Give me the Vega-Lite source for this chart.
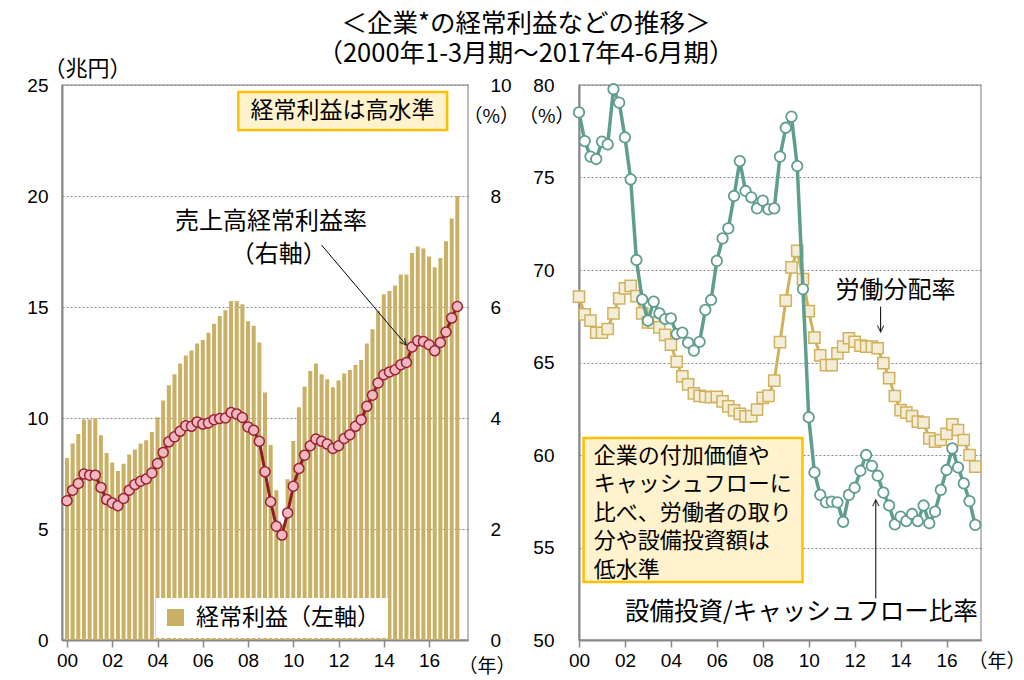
{
  "$schema": "https://vega.github.io/schema/vega-lite/v6.json",
  "padding": {"left": 26, "top": 11, "right": 0, "bottom": 8},
  "bounds": "flush",
  "spacing": 111,
  "background": "white",
  "title": {
    "text": ["＜企業*の経常利益などの推移＞", "（2000年1-3月期～2017年4-6月期）"],
    "fontSize": 25.5, "font": "Noto Sans CJK JP", "fontWeight": "normal",
    "lineHeight": 30, "anchor": "middle", "offset": -11, "color": "black"
  },
  "config": {
    "font": "Noto Sans CJK JP",
    "view": {"stroke": "#a6a6a6", "strokeWidth": 1.5},
    "axis": {
      "labelFont": "Liberation Sans", "labelFontSize": 19, "labelColor": "black",
      "domainColor": "#888", "domainWidth": 2, "ticks": false,
      "gridColor": "#888", "gridDash": [2, 2], "gridWidth": 1,
      "titleFont": "Noto Sans CJK JP", "titleFontWeight": "normal", "titleFontSize": 19, "titleColor": "black"
    }
  },
  "datasets": {
    "profit": [
      {"t": 2000.00, "p": 8.2, "r": 2.51}, {"t": 2000.25, "p": 8.85, "r": 2.70}, {"t": 2000.50, "p": 9.28, "r": 2.82}, {"t": 2000.75, "p": 9.93, "r": 2.99},
      {"t": 2001.00, "p": 9.93, "r": 2.97}, {"t": 2001.25, "p": 10.0, "r": 2.97}, {"t": 2001.50, "p": 9.22, "r": 2.75}, {"t": 2001.75, "p": 8.42, "r": 2.53},
      {"t": 2002.00, "p": 7.99, "r": 2.47}, {"t": 2002.25, "p": 7.61, "r": 2.42}, {"t": 2002.50, "p": 7.94, "r": 2.55}, {"t": 2002.75, "p": 8.36, "r": 2.70},
      {"t": 2003.00, "p": 8.58, "r": 2.80}, {"t": 2003.25, "p": 8.85, "r": 2.86}, {"t": 2003.50, "p": 9.0, "r": 2.90}, {"t": 2003.75, "p": 9.37, "r": 3.01},
      {"t": 2004.00, "p": 10.03, "r": 3.18}, {"t": 2004.25, "p": 10.79, "r": 3.38}, {"t": 2004.50, "p": 11.48, "r": 3.57}, {"t": 2004.75, "p": 11.97, "r": 3.66},
      {"t": 2005.00, "p": 12.46, "r": 3.76}, {"t": 2005.25, "p": 12.82, "r": 3.86}, {"t": 2005.50, "p": 13.04, "r": 3.85}, {"t": 2005.75, "p": 13.36, "r": 3.93},
      {"t": 2006.00, "p": 13.51, "r": 3.89}, {"t": 2006.25, "p": 13.84, "r": 3.91}, {"t": 2006.50, "p": 14.25, "r": 3.97}, {"t": 2006.75, "p": 14.6, "r": 3.99},
      {"t": 2007.00, "p": 14.85, "r": 4.0}, {"t": 2007.25, "p": 15.27, "r": 4.10}, {"t": 2007.50, "p": 15.27, "r": 4.07}, {"t": 2007.75, "p": 15.12, "r": 4.01},
      {"t": 2008.00, "p": 14.36, "r": 3.84}, {"t": 2008.25, "p": 14.15, "r": 3.78}, {"t": 2008.50, "p": 13.4, "r": 3.58}, {"t": 2008.75, "p": 11.15, "r": 3.03},
      {"t": 2009.00, "p": 8.78, "r": 2.49}, {"t": 2009.25, "p": 6.75, "r": 2.05}, {"t": 2009.50, "p": 5.2, "r": 1.89}, {"t": 2009.75, "p": 7.24, "r": 2.29},
      {"t": 2010.00, "p": 8.96, "r": 2.77}, {"t": 2010.25, "p": 10.48, "r": 3.09}, {"t": 2010.50, "p": 11.42, "r": 3.33}, {"t": 2010.75, "p": 12.12, "r": 3.50},
      {"t": 2011.00, "p": 12.46, "r": 3.62}, {"t": 2011.25, "p": 11.97, "r": 3.58}, {"t": 2011.50, "p": 11.75, "r": 3.53}, {"t": 2011.75, "p": 11.39, "r": 3.45},
      {"t": 2012.00, "p": 11.69, "r": 3.50}, {"t": 2012.25, "p": 12.01, "r": 3.63}, {"t": 2012.50, "p": 12.16, "r": 3.70}, {"t": 2012.75, "p": 12.39, "r": 3.85},
      {"t": 2013.00, "p": 12.61, "r": 3.97}, {"t": 2013.25, "p": 13.36, "r": 4.21}, {"t": 2013.50, "p": 14.0, "r": 4.41}, {"t": 2013.75, "p": 14.82, "r": 4.63},
      {"t": 2014.00, "p": 15.57, "r": 4.78}, {"t": 2014.25, "p": 15.72, "r": 4.83}, {"t": 2014.50, "p": 15.97, "r": 4.87}, {"t": 2014.75, "p": 16.46, "r": 4.96},
      {"t": 2015.00, "p": 16.46, "r": 5.0}, {"t": 2015.25, "p": 17.43, "r": 5.28}, {"t": 2015.50, "p": 17.73, "r": 5.39}, {"t": 2015.75, "p": 17.64, "r": 5.38},
      {"t": 2016.00, "p": 17.27, "r": 5.32}, {"t": 2016.25, "p": 16.79, "r": 5.21}, {"t": 2016.50, "p": 17.21, "r": 5.36}, {"t": 2016.75, "p": 17.96, "r": 5.55},
      {"t": 2017.00, "p": 18.99, "r": 5.80}, {"t": 2017.25, "p": 20.0, "r": 6.01}
    ],
    "share": [
      {"t": 2000.00, "L": 68.56, "C": 78.52}, {"t": 2000.25, "L": 67.6, "C": 76.97}, {"t": 2000.50, "L": 67.26, "C": 76.13}, {"t": 2000.75, "L": 66.61, "C": 76.0},
      {"t": 2001.00, "L": 66.61, "C": 76.94}, {"t": 2001.25, "L": 66.81, "C": 76.79}, {"t": 2001.50, "L": 67.66, "C": 79.77}, {"t": 2001.75, "L": 68.47, "C": 79.05},
      {"t": 2002.00, "L": 69.01, "C": 77.17}, {"t": 2002.25, "L": 69.14, "C": 74.9}, {"t": 2002.50, "L": 68.59, "C": 70.54}, {"t": 2002.75, "L": 67.66, "C": 68.41},
      {"t": 2003.00, "L": 67.17, "C": 67.26}, {"t": 2003.25, "L": 67.15, "C": 68.29}, {"t": 2003.50, "L": 66.9, "C": 67.66}, {"t": 2003.75, "L": 66.49, "C": 67.35},
      {"t": 2004.00, "L": 65.97, "C": 67.39}, {"t": 2004.25, "L": 65.04, "C": 66.54}, {"t": 2004.50, "L": 64.25, "C": 66.61}, {"t": 2004.75, "L": 63.82, "C": 66.07},
      {"t": 2005.00, "L": 63.33, "C": 65.64}, {"t": 2005.25, "L": 63.2, "C": 66.12}, {"t": 2005.50, "L": 63.15, "C": 67.84}, {"t": 2005.75, "L": 63.12, "C": 68.38},
      {"t": 2006.00, "L": 63.15, "C": 70.49}, {"t": 2006.25, "L": 62.9, "C": 71.71}, {"t": 2006.50, "L": 62.63, "C": 72.25}, {"t": 2006.75, "L": 62.41, "C": 74.0},
      {"t": 2007.00, "L": 62.22, "C": 75.89}, {"t": 2007.25, "L": 62.09, "C": 74.27}, {"t": 2007.50, "L": 62.1, "C": 73.93}, {"t": 2007.75, "L": 62.45, "C": 73.33},
      {"t": 2008.00, "L": 63.09, "C": 73.75}, {"t": 2008.25, "L": 63.2, "C": 73.28}, {"t": 2008.50, "L": 64.02, "C": 73.33}, {"t": 2008.75, "L": 66.1, "C": 76.13},
      {"t": 2009.00, "L": 68.34, "C": 77.69}, {"t": 2009.25, "L": 70.14, "C": 78.29}, {"t": 2009.50, "L": 71.03, "C": 75.62}, {"t": 2009.75, "L": 69.51, "C": 68.97},
      {"t": 2010.00, "L": 67.78, "C": 62.04}, {"t": 2010.25, "L": 66.34, "C": 59.06}, {"t": 2010.50, "L": 65.39, "C": 57.84}, {"t": 2010.75, "L": 64.86, "C": 57.44},
      {"t": 2011.00, "L": 64.86, "C": 57.48}, {"t": 2011.25, "L": 65.49, "C": 57.44}, {"t": 2011.50, "L": 65.86, "C": 56.39}, {"t": 2011.75, "L": 66.31, "C": 57.84},
      {"t": 2012.00, "L": 66.12, "C": 58.23}, {"t": 2012.25, "L": 65.91, "C": 59.15}, {"t": 2012.50, "L": 65.86, "C": 60.0}, {"t": 2012.75, "L": 65.86, "C": 59.41},
      {"t": 2013.00, "L": 65.77, "C": 58.88}, {"t": 2013.25, "L": 64.97, "C": 57.97}, {"t": 2013.50, "L": 64.16, "C": 57.27}, {"t": 2013.75, "L": 63.19, "C": 56.25},
      {"t": 2014.00, "L": 62.43, "C": 56.67}, {"t": 2014.25, "L": 62.29, "C": 56.43}, {"t": 2014.50, "L": 62.11, "C": 56.81}, {"t": 2014.75, "L": 61.8, "C": 56.43},
      {"t": 2015.00, "L": 61.75, "C": 57.27}, {"t": 2015.25, "L": 60.9, "C": 56.31}, {"t": 2015.50, "L": 60.72, "C": 56.94}, {"t": 2015.75, "L": 60.81, "C": 58.11},
      {"t": 2016.00, "L": 61.14, "C": 59.19}, {"t": 2016.25, "L": 61.66, "C": 60.36}, {"t": 2016.50, "L": 61.35, "C": 59.33}, {"t": 2016.75, "L": 60.81, "C": 58.47},
      {"t": 2017.00, "L": 60.0, "C": 57.51}, {"t": 2017.25, "L": 59.37, "C": 56.22}
    ]
  },
  "hconcat": [
    {
      "width": 406,
      "height": 555,
      "resolve": {"scale": {"y": "independent"}},
      "layer": [
        {
          "layer": [
            {
              "data": {"name": "profit"},
              "mark": {"type": "bar", "size": 4},
              "encoding": {
                "x": {
                  "field": "t", "type": "quantitative",
                  "scale": {"domain": [2000, 2017.5], "nice": false, "zero": false},
                  "axis": {
                    "values": [2000, 2001, 2002, 2003, 2004, 2005, 2006, 2007, 2008, 2009, 2010, 2011, 2012, 2013, 2014, 2015, 2016, 2017],
                    "labelExpr": "datum.value % 2 == 0 ? substring(toString(datum.value), 2, 4) : ''",
                    "ticks": true, "tickSize": 7, "tickColor": "#888", "tickWidth": 1.5,
                    "labelPadding": 4, "labelFlush": false, "labelOverlap": false, "grid": false,
                    "title": "（年）", "titleX": 396, "titleY": 26, "titleAlign": "left", "titleBaseline": "middle", "titleAngle": 0
                  }
                },
                "y": {
                  "field": "p", "type": "quantitative",
                  "scale": {"domain": [0, 25], "nice": false},
                  "axis": {
                    "values": [0, 5, 10, 15, 20, 25], "grid": true, "labelPadding": 14,
                    "title": "（兆円）", "titleFontSize": 22, "titleAngle": 0, "titleX": -19, "titleY": -17, "titleAlign": "left", "titleBaseline": "middle"
                  }
                },
                "color": {
                  "datum": "経常利益（左軸）",
                  "scale": {"range": ["#C9B064"]},
                  "legend": {
                    "orient": "none", "legendX": 94, "legendY": 513, "fillColor": "white", "padding": 8,
                    "symbolType": "square", "symbolSize": 290, "symbolStrokeWidth": 0, "labelLimit": 400,
                    "labelFontSize": 23, "labelFont": "Noto Sans CJK JP", "labelColor": "black", "labelOffset": 9, "title": null
                  }
                }
              }
            },
            {
              "data": {"values": [{}]},
              "mark": {"type": "rect", "fill": "#FFF2CC", "stroke": "#FFC000", "strokeWidth": 2.5},
              "encoding": {
                "x": {"datum": 2007.57}, "x2": {"datum": 2016.8},
                "y": {"datum": 24.68}, "y2": {"datum": 22.97}
              }
            },
            {
              "data": {"values": [{}]},
              "mark": {"type": "text", "text": "経常利益は高水準", "fontSize": 23, "align": "center", "baseline": "middle", "color": "black"},
              "encoding": {"x": {"datum": 2012.17}, "y": {"datum": 23.83}}
            },
            {
              "data": {"values": [{}]},
              "mark": {"type": "text", "text": "売上高経常利益率", "fontSize": 24, "align": "center", "baseline": "middle", "color": "black"},
              "encoding": {"x": {"datum": 2009.02}, "y": {"datum": 18.83}}
            },
            {
              "data": {"values": [{}]},
              "mark": {"type": "text", "text": "（右軸）", "fontSize": 24, "align": "center", "baseline": "middle", "color": "black"},
              "encoding": {"x": {"datum": 2009.36}, "y": {"datum": 17.34}}
            },
            {
              "data": {"values": [{}]},
              "mark": {"type": "rule", "color": "black", "strokeWidth": 1},
              "encoding": {
                "x": {"datum": 2011.25}, "y": {"datum": 17.79},
                "x2": {"datum": 2014.99}, "y2": {"datum": 13.29}
              }
            },
            {
              "data": {"values": [{}]},
              "mark": {"type": "point", "shape": "M -0.45 0.9 L 0 0 L 0.45 0.9", "filled": false, "stroke": "black", "strokeWidth": 1.2, "size": 200, "angle": 139},
              "encoding": {"x": {"datum": 2014.99}, "y": {"datum": 13.29}}
            }
          ]
        },
        {
          "data": {"name": "profit"},
          "layer": [
            {
              "mark": {"type": "line", "color": "#8E1B2C", "strokeWidth": 3},
              "encoding": {
                "x": {"field": "t", "type": "quantitative"},
                "y": {
                  "field": "r", "type": "quantitative",
                  "scale": {"domain": [0, 10], "nice": false},
                  "axis": {
                    "orient": "right", "values": [0, 2, 4, 6, 8, 10], "grid": false, "domain": false, "labelPadding": 22,
                    "title": "（%）", "titleAngle": 0, "titleX": -5, "titleY": 31, "titleAlign": "left", "titleBaseline": "middle"
                  }
                }
              }
            },
            {
              "mark": {"type": "point", "shape": "circle", "filled": true, "size": 100, "fill": "#F2B8C0", "stroke": "#9A2235", "strokeWidth": 1.5, "opacity": 1},
              "encoding": {
                "x": {"field": "t", "type": "quantitative"},
                "y": {"field": "r", "type": "quantitative"}
              }
            }
          ]
        }
      ]
    },
    {
      "width": 402,
      "height": 555,
      "layer": [
        {
          "data": {"name": "share"},
          "mark": {"type": "line", "color": "#D1B25C", "strokeWidth": 3},
          "encoding": {
            "x": {
              "field": "t", "type": "quantitative",
              "scale": {"domain": [2000, 2017.5], "nice": false, "zero": false},
              "axis": {
                "values": [2000, 2001, 2002, 2003, 2004, 2005, 2006, 2007, 2008, 2009, 2010, 2011, 2012, 2013, 2014, 2015, 2016, 2017],
                "labelExpr": "datum.value % 2 == 0 ? substring(toString(datum.value), 2, 4) : ''",
                "ticks": true, "tickSize": 7, "tickColor": "#888", "tickWidth": 1.5,
                "labelPadding": 4, "labelFlush": false, "labelOverlap": false, "grid": false,
                "title": "（年）", "titleX": 389, "titleY": 21, "titleAlign": "left", "titleBaseline": "middle", "titleAngle": 0
              }
            },
            "y": {
              "field": "L", "type": "quantitative",
              "scale": {"domain": [50, 80], "nice": false, "zero": false},
              "axis": {
                "values": [50, 55, 60, 65, 70, 75, 80], "grid": true, "labelPadding": 25,
                "title": "（%）", "titleAngle": 0, "titleX": -5, "titleY": 31, "titleAlign": "right", "titleBaseline": "middle"
              }
            }
          }
        },
        {
          "data": {"name": "share"},
          "mark": {"type": "point", "shape": "square", "filled": true, "size": 125, "fill": "#F3EDD8", "stroke": "#D1B25C", "strokeWidth": 1.5, "opacity": 1},
          "encoding": {
            "x": {"field": "t", "type": "quantitative"},
            "y": {"field": "L", "type": "quantitative"}
          }
        },
        {
          "data": {"name": "share"},
          "mark": {"type": "line", "color": "#5F9D8E", "strokeWidth": 3.5},
          "encoding": {
            "x": {"field": "t", "type": "quantitative"},
            "y": {"field": "C", "type": "quantitative"}
          }
        },
        {
          "data": {"name": "share"},
          "mark": {"type": "point", "shape": "circle", "filled": true, "size": 110, "fill": "white", "stroke": "#5F9D8E", "strokeWidth": 1.8, "opacity": 1},
          "encoding": {
            "x": {"field": "t", "type": "quantitative"},
            "y": {"field": "C", "type": "quantitative"}
          }
        },
        {
          "data": {"values": [{}]},
          "mark": {"type": "rect", "fill": "#FFF2CC", "stroke": "#FFC000", "strokeWidth": 2.5},
          "encoding": {
            "x": {"datum": 2000.2}, "x2": {"datum": 2009.73},
            "y": {"datum": 60.92}, "y2": {"datum": 53.14}
          }
        },
        {
          "data": {"values": [{}]},
          "mark": {"type": "text", "text": ["企業の付加価値や", "キャッシュフローに", "比べ、労働者の取り", "分や設備投資額は", "低水準"], "fontSize": 22, "lineHeight": 28.5, "align": "left", "baseline": "middle", "color": "black"},
          "encoding": {"x": {"datum": 2000.64}, "y": {"datum": 59.95}}
        },
        {
          "data": {"values": [{}]},
          "mark": {"type": "text", "text": "労働分配率", "fontSize": 24, "align": "center", "baseline": "middle", "color": "black"},
          "encoding": {"x": {"datum": 2013.78}, "y": {"datum": 68.85}}
        },
        {
          "data": {"values": [{}]},
          "mark": {"type": "rule", "color": "black", "strokeWidth": 1},
          "encoding": {
            "x": {"datum": 2013.13}, "y": {"datum": 68.02}, "y2": {"datum": 66.66}
          }
        },
        {
          "data": {"values": [{}]},
          "mark": {"type": "point", "shape": "M -0.45 0.9 L 0 0 L 0.45 0.9", "filled": false, "stroke": "black", "strokeWidth": 1.2, "size": 200, "angle": 180},
          "encoding": {"x": {"datum": 2013.13}, "y": {"datum": 66.66}}
        },
        {
          "data": {"values": [{}]},
          "mark": {"type": "text", "text": "設備投資/キャッシュフロー比率", "fontSize": 24.5, "align": "center", "baseline": "middle", "color": "black"},
          "encoding": {"x": {"datum": 2009.68}, "y": {"datum": 51.45}}
        },
        {
          "data": {"values": [{}]},
          "mark": {"type": "rule", "color": "black", "strokeWidth": 1},
          "encoding": {
            "x": {"datum": 2012.92}, "y": {"datum": 52.25}, "y2": {"datum": 57.57}
          }
        },
        {
          "data": {"values": [{}]},
          "mark": {"type": "point", "shape": "M -0.45 0.9 L 0 0 L 0.45 0.9", "filled": false, "stroke": "black", "strokeWidth": 1.2, "size": 200, "angle": 0},
          "encoding": {"x": {"datum": 2012.92}, "y": {"datum": 57.57}}
        }
      ]
    }
  ]
}
